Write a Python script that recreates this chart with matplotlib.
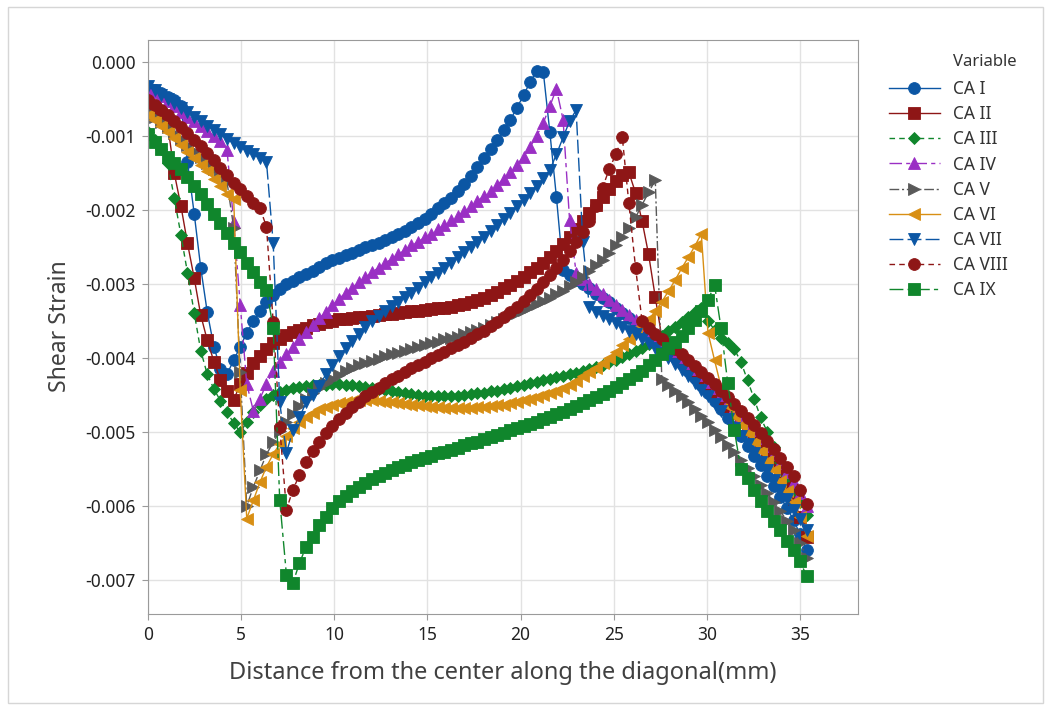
import matplotlib
matplotlib.use("Agg")
import matplotlib.pyplot as plt
from matplotlib.patches import Rectangle
from matplotlib.ticker import MultipleLocator, FuncFormatter

plt.rcParams['font.family'] = ['Noto Sans', 'DejaVu Sans']
plt.rcParams['axes.unicode_minus'] = False

# 沿对角线距离 (mm)
distance = [0.00, 0.35, 0.71, 1.06, 1.41, 1.77, 2.12, 2.48, 2.83, 3.18,
            3.54, 3.89, 4.24, 4.60, 4.95, 5.30, 5.66, 6.01, 6.36, 6.72,
            7.07, 7.43, 7.78, 8.13, 8.49, 8.84, 9.19, 9.55, 9.90, 10.25,
            10.61, 10.96, 11.32, 11.67, 12.02, 12.38, 12.73, 13.08, 13.44, 13.79,
            14.14, 14.50, 14.85, 15.20, 15.56, 15.91, 16.27, 16.62, 16.97, 17.33,
            17.68, 18.03, 18.39, 18.74, 19.09, 19.45, 19.80, 20.16, 20.51, 20.86,
            21.22, 21.57, 21.92, 22.28, 22.63, 22.98, 23.34, 23.69, 24.04, 24.40,
            24.75, 25.11, 25.46, 25.81, 26.17, 26.52, 26.87, 27.23, 27.58, 27.93,
            28.29, 28.64, 29.00, 29.35, 29.70, 30.06, 30.41, 30.76, 31.12, 31.47,
            31.82, 32.18, 32.53, 32.88, 33.24, 33.59, 33.94, 34.30, 34.65, 35.00,
            35.36]

# 剪应变 (x 1e-3)
ca_1 = [-0.35, -0.38, -0.42, -0.47, -0.52, -0.60, -1.35, -2.05, -2.78, -3.38,
        -3.85, -4.15, -4.22, -4.03, -3.85, -3.66, -3.50, -3.36, -3.25, -3.15,
        -3.07, -3.00, -2.96, -2.91, -2.87, -2.82, -2.77, -2.72, -2.68, -2.65,
        -2.61, -2.58, -2.54, -2.50, -2.47, -2.44, -2.40, -2.36, -2.32, -2.28,
        -2.23, -2.18, -2.12, -2.05, -1.98, -1.91, -1.84, -1.75, -1.65, -1.54,
        -1.42, -1.30, -1.18, -1.05, -0.92, -0.78, -0.62, -0.45, -0.27, -0.12,
        -0.14, -0.95, -1.82, -2.81, -2.88, -2.94, -3.00, -3.06, -3.13, -3.19,
        -3.25, -3.32, -3.39, -3.46, -3.53, -3.60, -3.67, -3.75, -3.83, -3.90,
        -3.99, -4.08, -4.17, -4.27, -4.36, -4.47, -4.58, -4.69, -4.81, -4.93,
        -5.06, -5.19, -5.32, -5.45, -5.59, -5.73, -5.88, -6.03, -6.19, -6.38,
        -6.60]
ca_2 = [-0.55, -0.62, -0.70, -0.85, -1.50, -1.95, -2.45, -2.92, -3.42, -3.76,
        -4.05, -4.30, -4.45, -4.57, -4.35, -4.20, -4.07, -3.97, -3.88, -3.80,
        -3.74, -3.69, -3.65, -3.62, -3.59, -3.56, -3.54, -3.52, -3.50, -3.48,
        -3.47, -3.46, -3.45, -3.44, -3.43, -3.42, -3.41, -3.40, -3.39, -3.38,
        -3.37, -3.36, -3.35, -3.34, -3.33, -3.32, -3.31, -3.29, -3.27, -3.25,
        -3.22, -3.19, -3.15, -3.11, -3.06, -3.01, -2.96, -2.90, -2.84, -2.78,
        -2.71, -2.63, -2.55, -2.46, -2.36, -2.26, -2.15, -2.04, -1.93, -1.82,
        -1.71, -1.61, -1.53, -1.49, -1.77, -2.15, -2.60, -3.18, -3.72, -3.85,
        -3.95, -4.03, -4.12, -4.20, -4.28, -4.37, -4.46, -4.55, -4.65, -4.75,
        -4.85, -4.96, -5.07, -5.19, -5.31, -5.44, -5.58, -5.72, -5.90, -6.15,
        -6.42]
ca_3 = [-0.95, -1.05, -1.18, -1.36, -1.84, -2.34, -2.85, -3.39, -3.90, -4.22,
        -4.42, -4.58, -4.73, -4.88, -5.00, -4.87, -4.73, -4.63, -4.56, -4.50,
        -4.46, -4.43, -4.41, -4.39, -4.38, -4.37, -4.36, -4.36, -4.35, -4.35,
        -4.36, -4.37, -4.38, -4.39, -4.40, -4.42, -4.43, -4.45, -4.46, -4.48,
        -4.49, -4.50, -4.51, -4.52, -4.52, -4.52, -4.52, -4.51, -4.50, -4.49,
        -4.48, -4.47, -4.45, -4.44, -4.42, -4.40, -4.38, -4.36, -4.34, -4.32,
        -4.30, -4.28, -4.26, -4.24, -4.22, -4.20, -4.18, -4.15, -4.12, -4.09,
        -4.06, -4.03, -3.99, -3.95, -3.91, -3.86, -3.81, -3.76, -3.70, -3.64,
        -3.58, -3.52, -3.45, -3.38, -3.32, -3.50, -3.62, -3.73, -3.80, -3.88,
        -4.05, -4.30, -4.55, -4.80, -5.00, -5.20, -5.40, -5.60, -5.78, -5.95,
        -6.12]
ca_4 = [-0.35, -0.40, -0.46, -0.53, -0.60, -0.67, -0.74, -0.80, -0.86, -0.93,
        -1.00, -1.07, -1.19, -2.16, -3.28, -4.35, -4.72, -4.55, -4.35, -4.18,
        -4.05, -3.95, -3.85, -3.74, -3.65, -3.55, -3.46, -3.38, -3.29, -3.20,
        -3.12, -3.05, -2.98, -2.91, -2.84, -2.78, -2.72, -2.66, -2.60, -2.54,
        -2.48, -2.43, -2.37, -2.32, -2.26, -2.20, -2.14, -2.08, -2.02, -1.95,
        -1.88, -1.81, -1.74, -1.66, -1.58, -1.49, -1.39, -1.28, -1.15, -1.00,
        -0.82, -0.60, -0.36, -0.78, -2.14, -2.85, -2.93, -3.00, -3.07, -3.14,
        -3.21, -3.28, -3.35, -3.42, -3.49, -3.56, -3.63, -3.70, -3.77, -3.84,
        -3.91, -3.99, -4.07, -4.15, -4.23, -4.32, -4.41, -4.50, -4.59, -4.68,
        -4.78, -4.88, -4.98, -5.08, -5.19, -5.30, -5.42, -5.54, -5.67, -5.82,
        -6.00]
ca_5 = [-0.68, -0.74, -0.81, -0.88, -0.96, -1.04, -1.12, -1.20, -1.28, -1.36,
        -1.44, -1.52, -1.62, -2.24, -4.19, -6.00, -5.74, -5.52, -5.30, -5.14,
        -4.99, -4.87, -4.76, -4.65, -4.56, -4.48, -4.41, -4.34, -4.28, -4.23,
        -4.18, -4.14, -4.10, -4.07, -4.04, -4.01, -3.98, -3.95, -3.93, -3.90,
        -3.88, -3.85, -3.83, -3.80, -3.78, -3.75, -3.73, -3.71, -3.68, -3.65,
        -3.62, -3.59, -3.55, -3.51, -3.47, -3.43, -3.39, -3.35, -3.31, -3.27,
        -3.23, -3.19, -3.14, -3.09, -3.03, -2.97, -2.90, -2.83, -2.75, -2.67,
        -2.58, -2.48, -2.37, -2.25, -2.10, -1.93, -1.76, -1.60, -4.28, -4.36,
        -4.44, -4.52, -4.60, -4.69, -4.78, -4.87, -4.97, -5.07, -5.17, -5.27,
        -5.38, -5.49, -5.60, -5.71, -5.83, -5.95, -6.07, -6.20, -6.33, -6.50,
        -6.70]
ca_6 = [-0.72, -0.79, -0.87, -0.95, -1.03, -1.12, -1.21, -1.30, -1.39, -1.48,
        -1.58, -1.68, -1.78, -1.85, -4.43, -6.17, -5.92, -5.68, -5.47, -5.30,
        -5.16, -5.05, -4.95, -4.87, -4.80, -4.74, -4.69, -4.66, -4.63, -4.61,
        -4.59, -4.58, -4.57, -4.57, -4.57, -4.58, -4.59, -4.60, -4.61, -4.62,
        -4.63, -4.64, -4.65, -4.66, -4.66, -4.67, -4.67, -4.67, -4.67, -4.67,
        -4.66, -4.66, -4.65, -4.64, -4.63, -4.61, -4.59, -4.57, -4.55, -4.53,
        -4.50, -4.47, -4.44, -4.40, -4.36, -4.31, -4.25, -4.19, -4.13, -4.07,
        -4.00, -3.92, -3.83, -3.75, -3.66, -3.57, -3.48, -3.37, -3.24, -3.10,
        -2.95, -2.79, -2.64, -2.49, -2.32, -3.66, -4.03, -4.39, -4.65, -4.78,
        -4.90, -5.02, -5.14, -5.26, -5.39, -5.52, -5.66, -5.80, -5.95, -6.15,
        -6.40]
ca_7 = [-0.33, -0.38, -0.44, -0.50, -0.56, -0.62, -0.68, -0.74, -0.80, -0.86,
        -0.92, -0.98, -1.04, -1.10, -1.15, -1.20, -1.25, -1.30, -1.35, -2.45,
        -4.60, -5.28, -4.98, -4.80, -4.60, -4.50, -4.38, -4.22, -4.10, -3.98,
        -3.87, -3.77, -3.67, -3.58, -3.50, -3.43, -3.36, -3.30, -3.24, -3.18,
        -3.12, -3.05, -2.98, -2.91, -2.85, -2.78, -2.71, -2.64, -2.57, -2.50,
        -2.43, -2.36, -2.28, -2.20, -2.12, -2.04, -1.95, -1.86, -1.77, -1.67,
        -1.57, -1.46, -1.25, -1.02, -0.80, -0.65, -2.43, -3.31, -3.38, -3.43,
        -3.48, -3.53, -3.58, -3.63, -3.68, -3.74, -3.80, -3.86, -3.93, -4.00,
        -4.08, -4.16, -4.25, -4.34, -4.43, -4.52, -4.62, -4.72, -4.83, -4.94,
        -5.05, -5.16, -5.28, -5.40, -5.52, -5.65, -5.78, -5.91, -6.05, -6.18,
        -6.32]
ca_8 = [-0.52, -0.58, -0.65, -0.72, -0.80, -0.88, -0.96, -1.05, -1.14, -1.23,
        -1.33, -1.43, -1.53, -1.63, -1.72, -1.81, -1.90, -1.97, -2.23, -3.51,
        -4.93, -6.05, -5.78, -5.58, -5.40, -5.26, -5.13, -5.02, -4.92, -4.83,
        -4.74, -4.66, -4.59, -4.52, -4.46, -4.40, -4.34, -4.29, -4.24, -4.19,
        -4.14, -4.09, -4.05, -4.00, -3.96, -3.92, -3.87, -3.83, -3.78, -3.73,
        -3.68, -3.63, -3.57, -3.51, -3.45, -3.38, -3.31, -3.23, -3.15, -3.07,
        -2.98, -2.88, -2.78, -2.67, -2.55, -2.43, -2.30, -2.15, -1.95, -1.70,
        -1.45, -1.25, -1.02, -1.91, -2.78, -3.50, -3.60, -3.67, -3.74, -3.81,
        -3.88, -3.95, -4.03, -4.11, -4.19, -4.27, -4.35, -4.44, -4.53, -4.62,
        -4.71, -4.81, -4.91, -5.01, -5.12, -5.23, -5.35, -5.47, -5.60, -5.78,
        -5.98]
ca_9 = [-0.97, -1.08, -1.18, -1.28, -1.36, -1.45, -1.56, -1.67, -1.78, -1.92,
        -2.05, -2.18, -2.31, -2.44, -2.57, -2.71, -2.84, -2.97, -3.08, -3.59,
        -5.92, -6.93, -7.04, -6.77, -6.55, -6.42, -6.26, -6.15, -6.03, -5.93,
        -5.86, -5.80, -5.74, -5.69, -5.64, -5.59, -5.55, -5.51, -5.47, -5.44,
        -5.41, -5.38, -5.35, -5.32, -5.29, -5.27, -5.24, -5.21, -5.18, -5.15,
        -5.13, -5.10, -5.07, -5.04, -5.01, -4.98, -4.95, -4.92, -4.89, -4.86,
        -4.83, -4.80, -4.76, -4.73, -4.69, -4.65, -4.61, -4.57, -4.53, -4.49,
        -4.44, -4.39, -4.34, -4.29, -4.23, -4.17, -4.10, -4.03, -3.95, -3.87,
        -3.79, -3.70, -3.60, -3.49, -3.37, -3.22, -3.01, -3.60, -4.34, -4.97,
        -5.50, -5.62, -5.78, -5.93, -6.07, -6.20, -6.33, -6.47, -6.60, -6.75,
        -6.95]

names = ['CA I', 'CA II', 'CA III', 'CA IV', 'CA V', 'CA VI', 'CA VII', 'CA VIII', 'CA IX']
series = [ca_1, ca_2, ca_3, ca_4, ca_5, ca_6, ca_7, ca_8, ca_9]

colors = ['#0b56a4', '#8e1616', '#10862c', '#9a2fc4', '#595959',
          '#d88f14', '#0b56a4', '#8e1616', '#10862c']
markers = ['o', 's', 'D', '^', '>', '<', 'v', 'o', 's']
msizes = [8.5, 8.5, 6.6, 9, 9, 9, 9, 8.5, 8.5]
lstyles = ['-', '-', (0, (4, 3)), (0, (9, 3, 3, 3)), (0, (7, 2, 1.5, 2)),
           '-', (0, (10, 3)), (0, (4, 3)), (0, (10, 3, 3, 3))]

W, H = 1051, 706
fig = plt.figure(figsize=(W / 100, H / 100), dpi=100)
# 外框
fig.patches.append(Rectangle((8 / W, 1 - 703 / H), 1035 / W, 696 / H,
                             transform=fig.transFigure, fill=False,
                             edgecolor='#d6d6d6', lw=1))

ax = fig.add_axes([148 / W, 1 - 614 / H, 710 / W, 574 / H])

for name, ys, c, m, ms, ls in zip(names, series, colors, markers, msizes, lstyles):
    ax.plot(distance, [v * 1e-3 for v in ys], color=c, marker=m, markersize=ms,
            linestyle=ls, linewidth=1.0, markeredgewidth=0.6, markeredgecolor=c,
            label=name)

ax.set_xlim(0, 38.11)
ax.set_ylim(-0.00746, 0.000297)
ax.xaxis.set_major_locator(MultipleLocator(5))
ax.yaxis.set_major_locator(MultipleLocator(0.001))
ax.yaxis.set_major_formatter(FuncFormatter(lambda v, p: '0.000' if abs(v) < 1e-9 else f'{v:.3f}'))
ax.grid(True, color='#e2e2e2', linewidth=1)
ax.set_axisbelow(True)
for sp in ax.spines.values():
    sp.set_color('#9a9a9a')
ax.tick_params(color='#9a9a9a', length=4, labelcolor='#222222', labelsize=12.5, pad=5)

fig.text(503 / W, 1 - 673 / H, 'Distance from the center along the diagonal(mm)',
         ha='center', va='center', fontsize=17, color='#404040')
fig.text(60 / W, 1 - 326 / H, 'Shear Strain', rotation=90,
         ha='center', va='center', fontsize=16.5, color='#404040')

# 图例
fig.text(953 / W, 1 - 62 / H, 'Variable', ha='left', va='center', fontsize=12, color='#333333')
handles, labels = ax.get_legend_handles_labels()
fig.legend(handles, labels, loc='upper left', bbox_to_anchor=(884 / W, 1 - 75 / H),
           frameon=False, fontsize=12.5, handlelength=2.9, handletextpad=0.75,
           labelspacing=0.41, borderaxespad=0, borderpad=0.3, labelcolor='#333333')

fig.savefig('out.png', dpi=100)
